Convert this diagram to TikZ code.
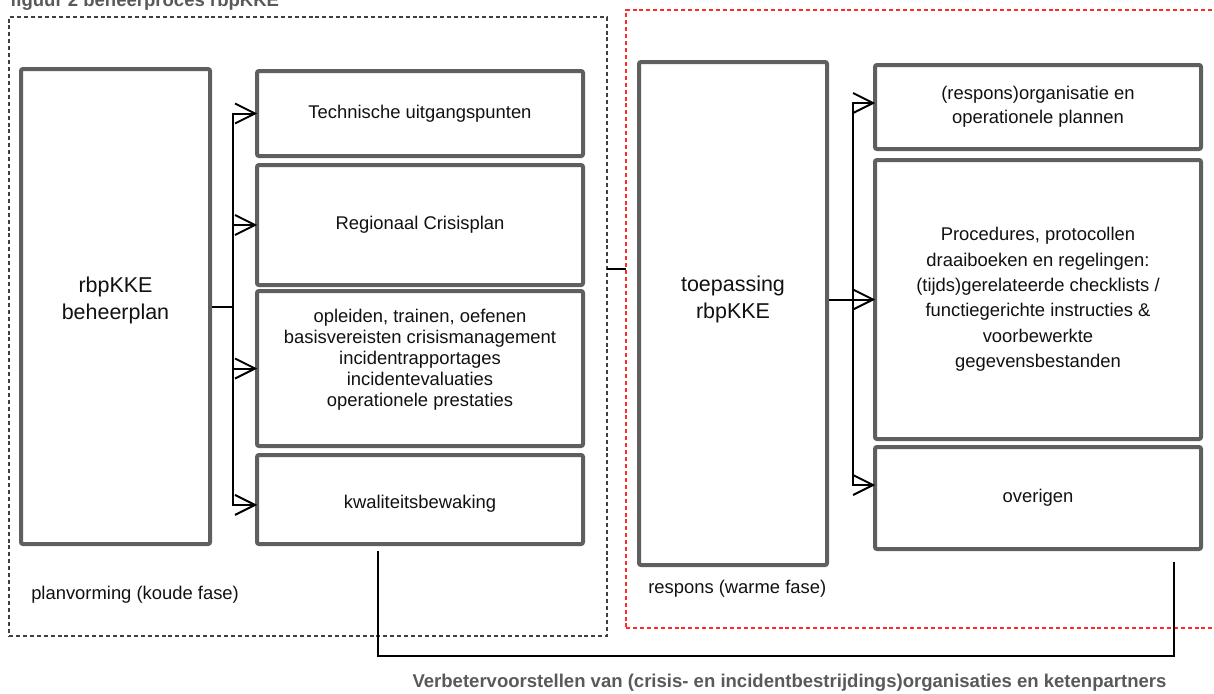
\documentclass[tikz,border=0pt]{standalone}
\usepackage{fontspec}
\setmainfont{Liberation Sans}
\usetikzlibrary{calc}
\definecolor{boxgray}{HTML}{5F5F5F}
\definecolor{framegray}{HTML}{404040}
\definecolor{framered}{HTML}{FF2A2A}
\definecolor{labelgray}{HTML}{595959}
\definecolor{ink}{HTML}{111111}

% open arrowhead whose tip sits on the given point
\newcommand\openhead[1]{\draw[conn, line join=miter] ([shift={(-20,-10)}]#1) -- (#1) -- ([shift={(-20,10)}]#1);}

\begin{document}
\begin{tikzpicture}[x=0.75pt,y=-0.75pt,
  box/.style={draw=boxgray, line width=3pt, rounded corners=1.5pt, fill=white,
    inner sep=0pt, align=center, text=ink,
    font=\fontsize{13.8pt}{15.75pt}\selectfont},
  boxtext/.style={inner sep=0pt, align=center, text=ink,
    font=\fontsize{13.8pt}{15.75pt}\selectfont},
  bigtext/.style={boxtext, font=\fontsize{16.1pt}{20.25pt}\selectfont},
  frame/.style={draw, line width=0.8pt, dash pattern=on 3pt off 2.2pt,
    inner sep=0pt, outer sep=0pt},
  conn/.style={draw=black, line width=1.5pt},
  phase/.style={inner sep=0pt, text=ink, font=\fontsize{13.8pt}{15.75pt}\selectfont},
  caption/.style={inner sep=0pt, text=labelgray,
    font=\bfseries\fontsize{13.9pt}{16pt}\selectfont}]

\useasboundingbox (0,0) rectangle (1214,693);
\clip (0,0) rectangle (1214,693);

% phase frames
\node[frame, draw=framegray, minimum width=448.5pt, minimum height=464.25pt] (cold) at (308,326.5) {};
\node[frame, draw=framered, minimum width=456pt, minimum height=463.5pt] (warm) at (930,319) {};

% cold phase: management plan and its parts
\node[box, minimum width=141.75pt, minimum height=356.25pt] (plan) at (115.5,306.5) {};
\node[bigtext] (plant) at (115.5,300) {rbpKKE\\beheerplan};
\node[box, minimum width=244.5pt, minimum height=63.75pt] (b1) at (420,113.5) {Technische uitgangspunten};
\node[box, minimum width=244.5pt, minimum height=90pt] (b2) at (420,225) {Regionaal Crisisplan};
\node[box, minimum width=244.5pt, minimum height=116.25pt] (b3) at (420,368.5) {};
\node[boxtext] (b3t) at (420,360) {opleiden, trainen, oefenen\\basisvereisten crisismanagement\\incidentrapportages\\incidentevaluaties\\operationele prestaties};
\node[box, minimum width=244.5pt, minimum height=66.75pt] (b4) at (420,499.5) {};
\node[boxtext] (b4t) at (420,504) {kwaliteitsbewaking};

% warm phase: application and its parts
\node[box, minimum width=141pt, minimum height=377.25pt] (toep) at (733,313.5) {};
\node[bigtext] (toept) at (733,299) {toepassing\\rbpKKE};
\node[box, font=\fontsize{13.8pt}{18pt}\selectfont, minimum width=244.5pt, minimum height=63pt] (r1) at (1038,107) {(respons)organisatie en\\operationele plannen};
\node[box, font=\fontsize{13.8pt}{19pt}\selectfont, minimum width=244.5pt, minimum height=209.25pt] (r2) at (1038,299.5) {Procedures, protocollen\\draaiboeken en regelingen:\\(tijds)gerelateerde checklists /\\functiegerichte instructies \&\\voorbewerkte\\gegevensbestanden};
\node[box, minimum width=244.5pt, minimum height=76.5pt] (r3) at (1038,498) {overigen};

% phase labels and captions
\node[phase, anchor=west] (coldlbl) at (31,595) {planvorming (koude fase)};
\node[phase, anchor=west] (warmlbl) at (648,589) {respons (warme fase)};
\node[caption, anchor=base west] (title) at (10,6) {figuur 2 beheerproces rbpKKE};
\node[caption, anchor=base] (impr) at (789.5,687) {Verbetervoorstellen van (crisis- en incidentbestrijdings)organisaties en ketenpartners};

% branching from the management plan
\coordinate (ls) at (233,0);
\coordinate (a1) at (b1.west);
\coordinate (a2) at (b2.west);
\coordinate (a3) at (b3.west);
\coordinate (a4) at ([yshift=-4.1pt]b4.west);
\draw[conn] (plan.east) -- (plan.east -| ls);
\draw[conn] (a1) -| (ls |- a4) -- (a4);
\draw[conn] (ls |- a2) -- (a2);
\draw[conn] (ls |- a3) -- (a3);
\openhead{a1}
\openhead{a2}
\openhead{a3}
\openhead{a4}

% branching from the application
\coordinate (rs) at (853,0);
\coordinate (c1) at ([yshift=3pt]r1.west);
\coordinate (c2) at (r2.west);
\coordinate (c3) at ([yshift=9.75pt]r3.west);
\draw[conn] (c1) -| (rs |- c3) -- (c3);
\draw[conn] (toep.east |- c2) -- (c2);
\openhead{c1}
\openhead{c2}
\openhead{c3}

% link between the two phases
\coordinate (lk) at (616,269);
\draw[conn] (lk -| cold.east) -- (lk -| warm.west);

% feedback loop
\coordinate (fbL) at (378,551);
\coordinate (fbR) at (1174,562);
\coordinate (fbB) at (0,656);
\draw[conn] (fbL) |- (fbB -| fbR) -- (fbR);
\end{tikzpicture}
\end{document}
